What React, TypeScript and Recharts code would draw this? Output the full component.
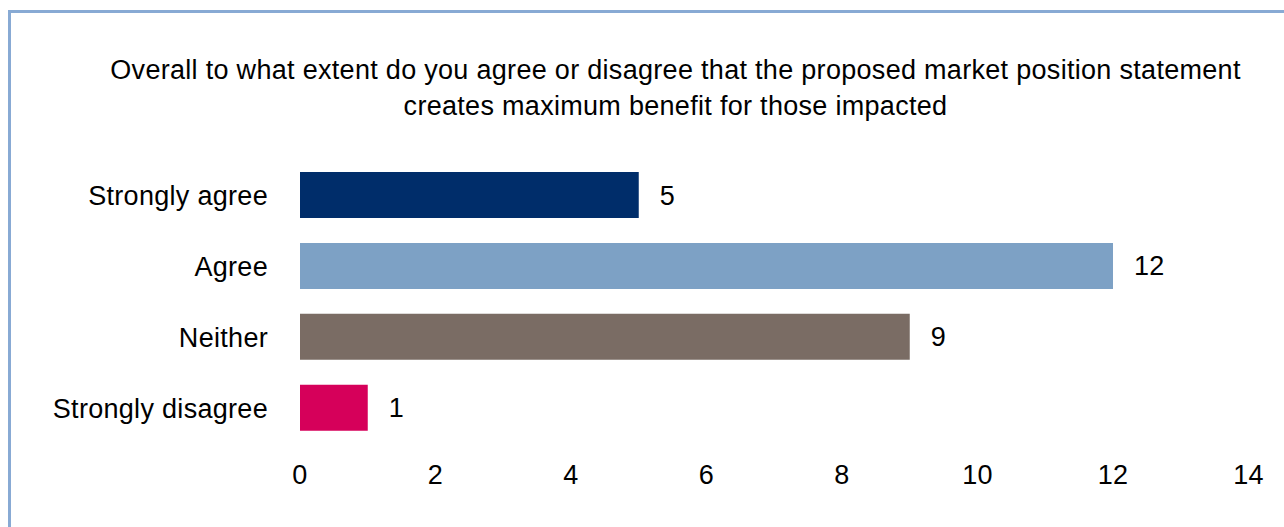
import { BarChart, Bar, XAxis, YAxis, Cell, LabelList } from "recharts";

const categories = ["Strongly agree", "Agree", "Neither", "Strongly disagree"];
const responses = [5, 12, 9, 1];
const xTicks = [0, 2, 4, 6, 8, 10, 12, 14];

const COLORS = ["#002D6A", "#7DA1C5", "#7A6C64", "#D6005A"];
const FONT = "'Liberation Sans', Arial, Helvetica, sans-serif";
const FS = 27;
const LS = 0.3;

const data = categories.map((name, i) => ({ name, value: responses[i] }));

export default function App() {
  const tickStyle = { fill: "#000", fontSize: FS, fontFamily: FONT, letterSpacing: LS };
  return (
    <div
      style={{
        position: "fixed",
        left: 0,
        top: 0,
        width: 1284,
        height: 527,
        overflow: "hidden",
        background: "#fff",
        fontFamily: FONT,
      }}
    >
      {/* frame, only the top-left edges are inside the view */}
      <div
        style={{
          position: "absolute",
          left: 8,
          top: 10,
          width: 1400,
          height: 700,
          border: "3px solid #88AAD4",
        }}
      />

      <div
        style={{
          position: "absolute",
          left: 0,
          top: 52,
          width: 1351,
          textAlign: "center",
          fontSize: FS,
          letterSpacing: LS,
          lineHeight: "36px",
          color: "#000",
        }}
      >
        Overall to what extent do you agree or disagree that the proposed market position statement
        <br />
        creates maximum benefit for those impacted
      </div>

      <div style={{ position: "absolute", left: 0, top: 0 }}>
        <BarChart
          width={1284}
          height={527}
          data={data}
          layout="vertical"
          margin={{ top: 160, right: 35.5, bottom: 43.4, left: 0 }}
          style={{ fontFamily: FONT }}
        >
          <XAxis
            type="number"
            domain={[0, 14]}
            ticks={xTicks}
            axisLine={false}
            tickLine={false}
            tickSize={0}
            tickMargin={21}
            height={40}
            interval={0}
            tick={tickStyle}
          />
          <YAxis
            type="category"
            dataKey="name"
            width={300}
            axisLine={false}
            tickLine={false}
            tickSize={0}
            tickMargin={32}
            interval={0}
            tick={tickStyle}
          />
          <Bar dataKey="value" barSize={46} isAnimationActive={false}>
            {data.map((_, i) => (
              <Cell key={i} fill={COLORS[i % COLORS.length]} />
            ))}
            <LabelList
              dataKey="value"
              position="right"
              offset={21}
              fill="#000"
              fontSize={FS}
              fontFamily={FONT}
              letterSpacing={LS}
            />
          </Bar>
        </BarChart>
      </div>
    </div>
  );
}
